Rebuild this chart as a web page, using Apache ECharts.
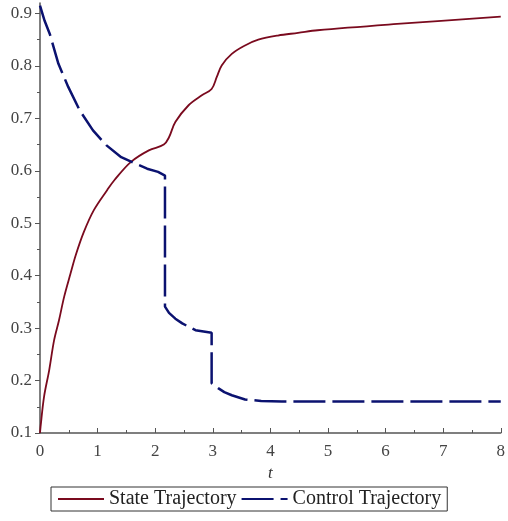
<!DOCTYPE html>
<html>
<head>
<meta charset="utf-8">
<script src="https://cdn.jsdelivr.net/npm/echarts@6/dist/echarts.min.js"></script>
<style>
html,body{margin:0;padding:0;background:#fff;overflow:hidden;}
#chart{width:508px;height:521px;}
</style>
</head>
<body>
<div id="chart"></div>
<script>
var stateT = [0, 0.01, 0.07, 0.16, 0.245, 0.33, 0.42, 0.53, 0.62, 0.76, 0.935, 1.165, 1.29, 1.58, 1.89, 2.15, 2.24, 2.35, 2.58, 2.81, 2.98, 3.07, 3.155, 3.33, 3.56, 3.79, 4.13, 4.48, 4.82, 6.2, 8];
var stateV = [0.1, 0.112, 0.169, 0.22, 0.277, 0.315, 0.36, 0.404, 0.439, 0.483, 0.525, 0.563, 0.582, 0.617, 0.639, 0.650, 0.664, 0.693, 0.725, 0.744, 0.756, 0.779, 0.801, 0.823, 0.839, 0.850, 0.858, 0.863, 0.868, 0.880, 0.894];
var controlT = [0, 0.08, 0.17, 0.32, 0.49, 0.69, 0.92, 1.15, 1.41, 1.61, 1.86, 2.05, 2.17, 2.17, 2.24, 2.35, 2.47, 2.70, 2.98, 2.98, 3.10, 3.20, 3.33, 3.56, 3.84, 4.2, 5, 6, 7, 8];
var controlV = [0.915, 0.886, 0.861, 0.804, 0.760, 0.715, 0.677, 0.649, 0.626, 0.616, 0.604, 0.598, 0.591, 0.341, 0.329, 0.318, 0.309, 0.296, 0.291, 0.195, 0.185, 0.178, 0.172, 0.164, 0.161, 0.16, 0.16, 0.16, 0.16, 0.16];
var xTicks = [0, 1, 2, 3, 4, 5, 6, 7, 8];
var yTicks = [0.1, 0.2, 0.3, 0.4, 0.5, 0.6, 0.7, 0.8, 0.9];
var yMinorTicks = [0.15, 0.25, 0.35, 0.45, 0.55, 0.65, 0.75, 0.85];

function pairs(ts, vs){ return ts.map(function(t,i){ return [t, vs[i]]; }); }

var axisColor = '#555';
var labelFont = {fontFamily: 'Liberation Serif', fontSize: 17, color: '#444'};

var chart = echarts.init(document.getElementById('chart'), null, {renderer: 'canvas', width: 508, height: 521});
chart.setOption({
  animation: false,
  backgroundColor: '#fff',
  grid: {left: 40, top: 3, width: 465, height: 430, containLabel: false},
  xAxis: {
    type: 'value', min: 0, max: 8, interval: 1,
    name: 't', nameLocation: 'middle', nameGap: 31,
    nameTextStyle: {fontFamily: 'Liberation Serif', fontSize: 17, fontStyle: 'italic', color: '#333'},
    axisLine: {lineStyle: {color: axisColor, width: 1.5}},
    axisTick: {show: true, inside: true, length: 5, lineStyle: {color: axisColor}},
    minorTick: {show: true, splitNumber: 2, length: 3, lineStyle: {color: axisColor}},
    axisLabel: Object.assign({margin: 10, customValues: xTicks, formatter: function(v){ return String(v); }}, labelFont),
    splitLine: {show: false}
  },
  yAxis: [{
    type: 'value', min: 0.1, max: 0.92, interval: 0.1,
    axisLine: {show: true, lineStyle: {color: axisColor, width: 1.5}},
    axisTick: {show: true, length: 5, customValues: yTicks, lineStyle: {color: axisColor}},
    axisLabel: Object.assign({margin: 8, customValues: yTicks, formatter: function(v){ return v.toFixed(1); }}, labelFont),
    splitLine: {show: false}
  }, {
    type: 'value', min: 0.1, max: 0.92, position: 'left', offset: 0,
    axisLine: {show: false},
    axisTick: {show: true, length: 3, customValues: yMinorTicks, lineStyle: {color: axisColor}},
    axisLabel: {show: false},
    splitLine: {show: false}
  }],
  legend: {
    left: 51, top: 487,
    padding: [2, 6],
    borderColor: '#333', borderWidth: 1,
    itemWidth: 46, itemHeight: 12, itemGap: 4,
    itemStyle: {opacity: 0},
    textStyle: {fontFamily: 'Liberation Serif', fontSize: 20, color: '#222'},
    data: ['State Trajectory', 'Control Trajectory']
  },
  series: [{
    name: 'State Trajectory', type: 'line', symbol: 'none',
    smooth: 0.35,
    data: pairs(stateT, stateV),
    lineStyle: {color: '#7a0a1e', width: 1.8},
    itemStyle: {color: '#7a0a1e'}
  }, {
    name: 'Control Trajectory', type: 'line', symbol: 'none',
    smooth: false,
    data: pairs(controlT, controlV),
    lineStyle: {color: '#0b1270', width: 2.5, type: [32, 7]},
    itemStyle: {color: '#0b1270'}
  }]
});
</script>
</body>
</html>
